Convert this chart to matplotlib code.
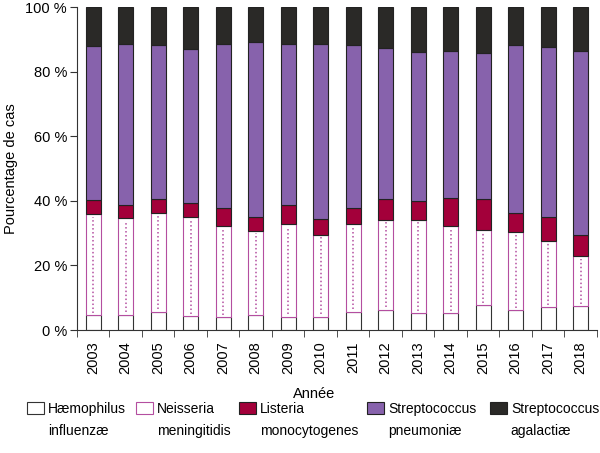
import numpy as np
import matplotlib.pyplot as plt
from matplotlib.patches import Patch

plt.rcParams['font.family'] = ['Liberation Sans', 'DejaVu Sans']

# data (percent of cases per year)
years = ['2003', '2004', '2005', '2006', '2007', '2008', '2009', '2010',
         '2011', '2012', '2013', '2014', '2015', '2016', '2017', '2018']
haemophilus = [4.6, 4.7, 5.7, 4.3, 3.9, 4.6, 4.1, 4.1, 5.6, 6.3, 5.2, 5.2, 7.7, 6.1, 7.0, 7.3]
neisseria = [31.3, 30.0, 30.5, 30.8, 28.3, 26.2, 28.7, 25.4, 27.2, 27.8, 28.9, 27.1, 23.4, 24.3, 20.7, 15.6]
listeria = [4.3, 3.9, 4.3, 4.3, 5.7, 4.3, 5.8, 4.8, 5.1, 6.5, 5.8, 8.5, 9.5, 5.9, 7.2, 6.5]
pneumoniae = [47.8, 49.8, 47.6, 47.6, 50.5, 54.1, 49.9, 54.1, 50.3, 46.7, 46.2, 45.7, 45.1, 51.8, 52.7, 57.1]
agalactiae = [12.0, 11.6, 11.9, 13.0, 11.6, 10.8, 11.5, 11.6, 11.8, 12.7, 13.9, 13.5, 14.3, 11.9, 12.4, 13.5]
labels_top = ['Hæmophilus', 'Neisseria', 'Listeria', 'Streptococcus', 'Streptococcus']
labels_bottom = ['influenzæ', 'meningitidis', 'monocytogenes', 'pneumoniæ', 'agalactiæ']

pink = '#b44ea0'
red = '#a3003a'
purple = '#8762ac'
dark = '#2a2927'

fig = plt.figure(figsize=(6, 4.53), dpi=100)
ax = fig.add_axes([0.128, 0.2715, 0.867, 0.713])

x = np.arange(len(years))
w = 0.46
h = np.array(haemophilus)
n = np.array(neisseria)
l = np.array(listeria)
s = np.array(pneumoniae)
a = np.array(agalactiae)

ax.bar(x, h, w, color='white', edgecolor='#333333', lw=0.8)
ax.bar(x, n, w, bottom=h, color='white', edgecolor=pink, lw=0.8)
ax.vlines(x, h + 0.8, h + n - 0.8, color=pink, lw=1.1, linestyles=(0, (1, 1.6)))
ax.bar(x, l, w, bottom=h + n, color=red, edgecolor='#222222', lw=0.8)
ax.bar(x, s, w, bottom=h + n + l, color=purple, edgecolor='#222222', lw=0.8)
ax.bar(x, a, w, bottom=h + n + l + s, color=dark, edgecolor='#222222', lw=0.8)

ax.set_xlim(-0.5, len(years) - 0.5)
ax.set_ylim(0, 100)
ax.set_yticks(range(0, 101, 20))
ax.set_yticklabels([f'{v} %' for v in range(0, 101, 20)], fontsize=10.5)
ax.set_xticks(x)
ax.set_xticklabels(years, rotation=90, fontsize=10.5)
ax.tick_params(axis='x', which='major', length=0, pad=8)
ax.set_xticks(np.arange(-0.5, len(years)), minor=True)
ax.tick_params(axis='x', which='minor', length=5, color='#333333')
ax.tick_params(axis='y', length=5, color='#333333', pad=2)
for side in ['top', 'right']:
    ax.spines[side].set_visible(False)
for side in ['left', 'bottom']:
    ax.spines[side].set_color('#333333')
ax.set_ylabel('Pourcentage de cas', fontsize=10.5)
ax.yaxis.set_label_coords(-0.113, 0.5)
ax.set_xlabel('Année', fontsize=10.5)
ax.xaxis.set_label_coords(0.456, -0.175)

handles = [
    Patch(facecolor='white', edgecolor='#333333', lw=0.8),
    Patch(facecolor='white', edgecolor=pink, lw=0.8, hatch=':'),
    Patch(facecolor=red, edgecolor='#222222', lw=0.8),
    Patch(facecolor=purple, edgecolor='#222222', lw=0.8),
    Patch(facecolor=dark, edgecolor='#222222', lw=0.8),
]
legend_x = [27, 136, 239, 367, 490]
legends = []
for hd, lb, px in zip(handles, labels_top, legend_x):
    leg = fig.legend([hd], [lb], loc='upper left', bbox_to_anchor=(px / 600, 1 - 402 / 453),
                     frameon=False, fontsize=10, handlelength=1.2, handleheight=1.0,
                     handletextpad=0.3, borderaxespad=0, borderpad=0)
    legends.append(leg)

# second line of each legend label, aligned under the first
fig.canvas.draw()
inv = fig.transFigure.inverted()
for leg, lb in zip(legends, labels_bottom):
    bb = leg.get_texts()[0].get_window_extent()
    x0, y0 = inv.transform((bb.x0, bb.y0))
    fig.text(x0, y0 - 8 / 453, lb, fontsize=10, ha='left', va='top')

fig.savefig('out.png', dpi=100)
